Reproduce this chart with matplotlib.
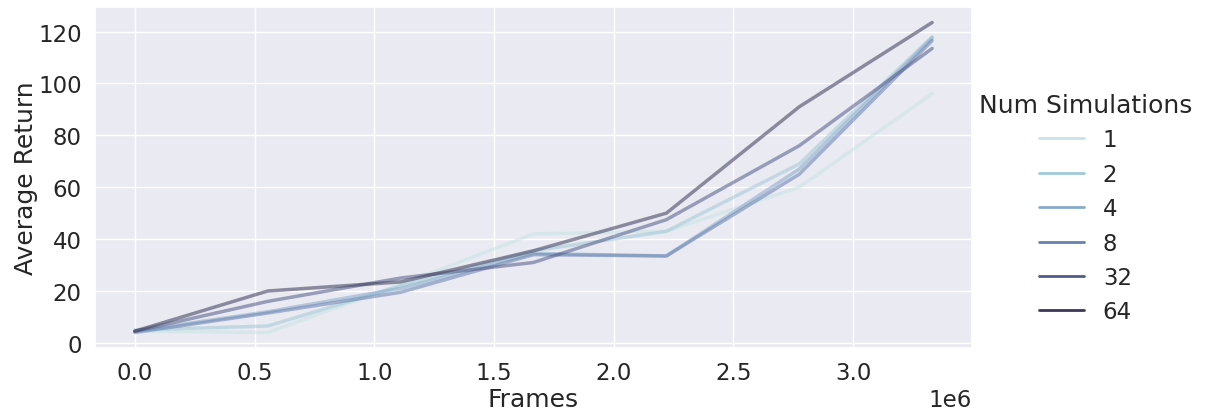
import matplotlib
matplotlib.use("Agg")
import matplotlib.pyplot as plt
from matplotlib.lines import Line2D
import seaborn as sns

# frames at each evaluation point
frames = [0, 0.555e6, 1.11e6, 1.665e6, 2.22e6, 2.775e6, 3.33e6]

num_sims = ["1", "2", "4", "8", "32", "64"]

# average return per number of simulations
ret_1 = [4.5, 4.0, 22.5, 42.0, 43.0, 60.0, 96.0]
ret_2 = [5.0, 6.5, 22.0, 35.5, 43.0, 69.0, 118.0]
ret_4 = [4.5, 12.0, 21.0, 34.5, 33.5, 67.0, 117.5]
ret_8 = [4.0, 11.5, 19.5, 34.0, 33.5, 65.0, 116.5]
ret_32 = [4.5, 16.0, 25.0, 31.0, 47.5, 76.0, 113.5]
ret_64 = [4.5, 20.0, 23.5, 35.5, 50.0, 91.0, 123.5]

returns = [ret_1, ret_2, ret_4, ret_8, ret_32, ret_64]

sns.set_theme(style="darkgrid", font_scale=1.5)
colors = ["#c8e4e4", "#a0cad8", "#86aacb", "#6881b0", "#525a89", "#3a3958"]

fig = plt.figure(figsize=(12.05, 4.1), dpi=100)
ax = fig.add_axes([95 / 1205, 1 - 349 / 410, (972 - 95) / 1205, (349 - 8) / 410])

for ys, c in zip(returns, colors):
    ax.plot(frames, ys, color=c, alpha=0.55, lw=2.5)

ax.set_xlabel("Frames", labelpad=2)
ax.set_ylabel("Average Return", labelpad=0)

handles = [Line2D([], [], color=c, lw=2) for c in colors]
fig.legend(handles, num_sims, title="Num Simulations", loc="center left",
           bbox_to_anchor=(958 / 1205, 0.49), frameon=False)

plt.savefig("out.png", dpi=100)
